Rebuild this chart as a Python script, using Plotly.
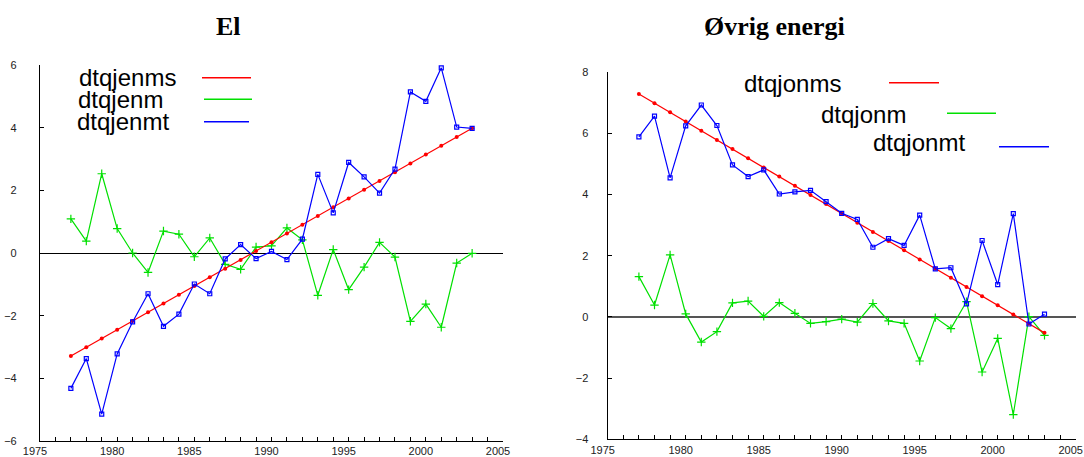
import plotly.graph_objects as go

W, H = 1084, 457

years = list(range(1977, 2004))

# El
dtqjenms = [-3.29, -3.01, -2.73, -2.45, -2.17, -1.89, -1.61, -1.33, -1.05, -0.77,
            -0.50, -0.22, 0.06, 0.34, 0.62, 0.90, 1.18, 1.46, 1.74, 2.02,
            2.30, 2.58, 2.86, 3.14, 3.42, 3.70, 3.98]
dtqjenm = [1.09, 0.38, 2.53, 0.78, 0.00, -0.62, 0.70, 0.60, -0.12, 0.48,
           -0.36, -0.52, 0.19, 0.23, 0.80, 0.42, -1.35, 0.11, -1.17, -0.45,
           0.34, -0.13, -2.18, -1.63, -2.37, -0.32, -0.01]
dtqjenmt = [-4.32, -3.37, -5.14, -3.22, -2.20, -1.30, -2.34, -1.95, -0.99, -1.30,
            -0.19, 0.27, -0.18, 0.05, -0.21, 0.44, 2.51, 1.28, 2.89, 2.43,
            1.91, 2.68, 5.14, 4.84, 5.91, 4.02, 3.98]

# Øvrig energi
dtqjonms = [7.29, 6.99, 6.69, 6.39, 6.09, 5.79, 5.49, 5.19, 4.89, 4.59,
            4.29, 3.99, 3.69, 3.39, 3.08, 2.78, 2.48, 2.18, 1.88, 1.58,
            1.28, 0.98, 0.68, 0.38, 0.08, -0.22, -0.52]
dtqjonm = [1.32, 0.39, 2.03, 0.10, -0.82, -0.48, 0.46, 0.52, 0.02, 0.47,
           0.12, -0.21, -0.15, -0.07, -0.17, 0.44, -0.13, -0.21, -1.44, -0.02,
           -0.38, 0.50, -1.80, -0.70, -3.19, 0.01, -0.60]
dtqjonmt = [5.89, 6.57, 4.55, 6.25, 6.93, 6.26, 4.97, 4.59, 4.81, 4.02,
            4.09, 4.14, 3.77, 3.39, 3.19, 2.28, 2.56, 2.34, 3.33, 1.57,
            1.61, 0.43, 2.50, 1.06, 3.38, -0.23, 0.09]

panel_titles = ["El", "Øvrig energi"]
x_ticks = [1975, 1980, 1985, 1990, 1995, 2000, 2005]

RED, GREEN, BLUE = "#ff0000", "#00e000", "#0000ff"


def px_x(p):
    return p / W


def px_y(p):
    return 1 - p / H


def add_series(fig, xa, ya, ms, m, mt, names):
    fig.add_trace(go.Scatter(
        x=years, y=m, xaxis=xa, yaxis=ya, mode="lines+markers", name=names[1],
        line=dict(color=GREEN, width=1.2),
        marker=dict(symbol="cross-thin", size=6, line=dict(color=GREEN, width=1.2)),
    ))
    fig.add_trace(go.Scatter(
        x=years, y=ms, xaxis=xa, yaxis=ya, mode="lines+markers", name=names[0],
        line=dict(color=RED, width=1.2),
        marker=dict(symbol="circle", size=4, color=RED),
    ))
    fig.add_trace(go.Scatter(
        x=years, y=mt, xaxis=xa, yaxis=ya, mode="lines+markers", name=names[2],
        line=dict(color=BLUE, width=1.2),
        marker=dict(symbol="square-open", size=4, line=dict(color=BLUE, width=1.2)),
    ))


fig = go.Figure()
add_series(fig, "x", "y", dtqjenms, dtqjenm, dtqjenmt, ["dtqjenms", "dtqjenm", "dtqjenmt"])
add_series(fig, "x2", "y2", dtqjonms, dtqjonm, dtqjonmt, ["dtqjonms", "dtqjonm", "dtqjonmt"])

tick_font = dict(family="Liberation Sans, Arial, sans-serif", size=11, color="#222222")

xaxis_common = dict(
    range=[1975, 2005], tickvals=x_ticks, ticks="inside", ticklen=4, tickwidth=1,
    tickcolor="black", showline=True, linecolor="black", linewidth=1.2,
    showgrid=False, zeroline=False, tickfont=tick_font, ticklabelshift=-5,
    automargin=False,
    minor=dict(dtick=1, tick0=1975, ticks="inside", ticklen=4, tickcolor="black",
               showgrid=False),
)
yaxis_common = dict(
    dtick=2, ticks="inside", ticklen=4, tickwidth=1, tickcolor="black",
    showline=True, linecolor="black", linewidth=1.2, showgrid=False,
    tickfont=tick_font, zeroline=True, automargin=False,
)

fig.update_layout(
    width=W, height=H,
    margin=dict(l=0, r=0, t=0, b=0, autoexpand=False),
    paper_bgcolor="white", plot_bgcolor="white",
    showlegend=False,
    xaxis=dict(domain=[px_x(40), px_x(503)], anchor="y", **xaxis_common),
    yaxis=dict(domain=[px_y(441), px_y(65)], anchor="x", range=[-6, 6],
               zerolinecolor="black", zerolinewidth=1.2, ticklabelstandoff=20,
               **yaxis_common),
    xaxis2=dict(domain=[px_x(607.7), px_x(1075.7)], anchor="y2", **xaxis_common),
    yaxis2=dict(domain=[px_y(439.3), px_y(72.3)], anchor="x2", range=[-4, 8],
                zerolinecolor="#555555", zerolinewidth=1.8, ticklabelstandoff=16,
                **yaxis_common),
)

# panel titles
for text, cx in zip(panel_titles, [228, 774]):
    fig.add_annotation(
        text=f"<b>{text}</b>", x=px_x(cx), y=px_y(26), xref="paper", yref="paper",
        xanchor="center", yanchor="middle", showarrow=False,
        font=dict(family="Liberation Serif, Times New Roman, serif", size=26, color="black"),
    )

# hand-placed legend entries: (label, text left, text middle, line x0, line x1, line y, colour)
legend_font = dict(family="Liberation Sans, Arial, sans-serif", size=24, color="black")
legend_entries = [
    ("dtqjenms", 77, 78, 202, 251, 77.7, RED),
    ("dtqjenm", 76, 99, 204, 252, 99.3, GREEN),
    ("dtqjenmt", 75, 122, 204, 249, 121.7, BLUE),
    ("dtqjonms", 742, 83, 889, 939, 82.7, RED),
    ("dtqjonm", 819, 114, 947, 996, 113.3, GREEN),
    ("dtqjonmt", 871, 142.5, 999, 1049, 146.7, BLUE),
]
for label, tx, ty, lx0, lx1, ly, col in legend_entries:
    fig.add_annotation(
        text=label, x=px_x(tx), y=px_y(ty), xref="paper", yref="paper",
        xanchor="left", yanchor="middle", showarrow=False, font=legend_font,
    )
    fig.add_shape(
        type="line", xref="paper", yref="paper",
        x0=px_x(lx0), x1=px_x(lx1), y0=px_y(ly), y1=px_y(ly),
        line=dict(color=col, width=1.5),
    )

fig.write_html("out.html")
